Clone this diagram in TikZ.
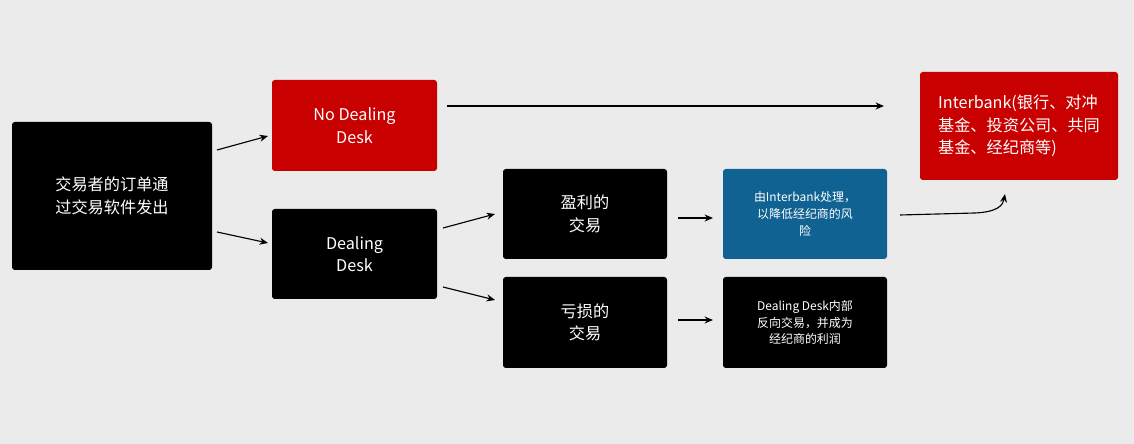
\documentclass[tikz,border=0pt]{standalone}
\usepackage{fontspec}
\setmainfont{Noto Sans CJK SC}
\usetikzlibrary{arrows.meta}
\definecolor{bg}{HTML}{EBEBEB}
\definecolor{rd}{HTML}{C80000}
\definecolor{bl}{HTML}{0F6291}
\tikzset{
 px/.style={x=0.025cm,y=-0.025cm},
 box/.style={draw=none,rounded corners=2pt,text=white,align=center,inner sep=0pt},
 big/.style={font=\fontsize{11.5}{16}\selectfont},
 small/.style={font=\fontsize{8.5}{12}\selectfont},
 arr/.style={-{Stealth[length=6pt,width=5pt]},line width=0.8pt}
}
\begin{document}
\begin{tikzpicture}[px]
\fill[bg] (0,0) rectangle (1134,444);
\path[box,fill=black] (12,122) rectangle (212,270);
\node[box,big] (src) at (112,196) {交易者的订单通\\过交易软件发出};
\fill[rd,rounded corners=2pt] (272,80) rectangle (437,171);
\node[box,big] (ndd) at (354.5,125.5) {No Dealing\\Desk};
\fill[black,rounded corners=2pt] (272,209) rectangle (437,299);
\node[box,big] (dd) at (354.5,254) {Dealing\\Desk};
\fill[black,rounded corners=2pt] (503,169) rectangle (667,259);
\node[box,big] (win) at (585,214) {盈利的\\交易};
\fill[black,rounded corners=2pt] (503,277) rectangle (667,368);
\node[box,big] (loss) at (585,322.5) {亏损的\\交易};
\fill[bl,rounded corners=2pt] (723,169) rectangle (887,259);
\node[box,small] (hedge) at (805,214) {由Interbank处理，\\以降低经纪商的风\\险};
\fill[black,rounded corners=2pt] (723,277) rectangle (887,368);
\node[box,small] (inner) at (805,322.5) {Dealing Desk内部\\反向交易，并成为\\经纪商的利润};
\fill[rd,rounded corners=2pt] (920,72) rectangle (1118,180);
\node[box,big,align=left] (ib) at (1019,126) {Interbank(银行、对冲\\基金、投资公司、共同\\基金、经纪商等)};
\coordinate (a1) at (217,150); \coordinate (a2) at (268,136);
\coordinate (b1) at (217,232); \coordinate (b2) at (268,243);
\coordinate (c1) at (447,106); \coordinate (c2) at (884,106);
\coordinate (d1) at (443,228); \coordinate (d2) at (495,214);
\coordinate (e1) at (443,287); \coordinate (e2) at (495,300);
\coordinate (f1) at (678,218); \coordinate (f2) at (713,218);
\coordinate (g1) at (678,320); \coordinate (g2) at (713,320);
\coordinate (h1) at (900,215); \coordinate (h2) at (1005,194);
\draw[arr] (a1) -- (a2);
\draw[arr] (b1) -- (b2);
\draw[arr] (c1) -- (c2);
\draw[arr] (d1) -- (d2);
\draw[arr] (e1) -- (e2);
\draw[arr] (f1) -- (f2);
\draw[arr] (g1) -- (g2);
\draw[arr] (h1) -- (975,213) .. controls (998,212) and (1003,205) .. (h2);
\end{tikzpicture}
\end{document}
